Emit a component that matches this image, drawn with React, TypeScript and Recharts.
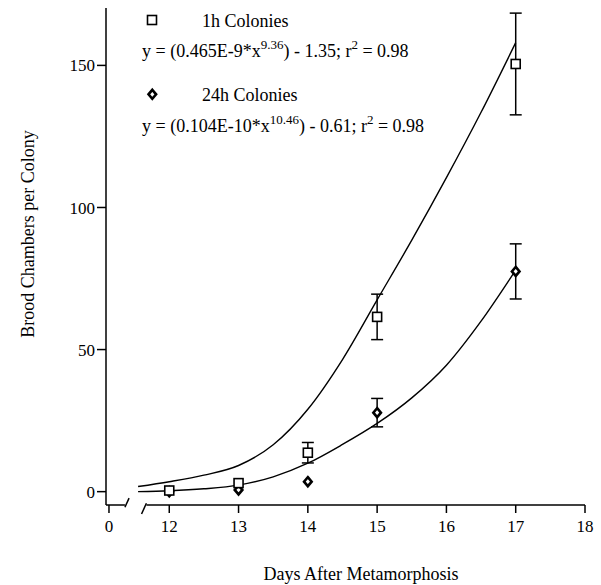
import React from 'react';
import {
  ComposedChart,
  Line,
  Scatter,
  XAxis,
  YAxis,
  ErrorBar,
  ReferenceLine,
} from 'recharts';

// observed means (days after metamorphosis)
const days = [12, 13, 14, 15, 17];
const colonies1h = [0.4, 3.0, 13.7, 61.5, 150.5];
const err1h = [null, null, 3.6, 8, 17.9];
const colonies24h = [0, 0.6, 3.5, 27.8, 77.5];
const err24h = [null, null, null, 5, 9.7];

// fitted curves
const fitDays = [11.55, 12, 12.5, 13, 13.5, 14, 14.5, 15, 15.5, 16, 16.5, 17];
const fit1h = [1.8, 3.5, 5.8, 9.2, 16.5, 29, 46.5, 67.5, 88.5, 110.5, 133.5, 158];
const fit24h = [0, 0.3, 1.0, 2.3, 5.2, 10, 16.6, 24, 33, 44.5, 60, 78];

const xTicks = [11.13, 12, 13, 14, 15, 16, 17, 18];
const yTicks = [0, 50, 100, 150];

const points1h = days.map((d, i) => ({ day: d, value: colonies1h[i], err: err1h[i] }));
const points24h = days.map((d, i) => ({ day: d, value: colonies24h[i], err: err24h[i] }));
const curve1h = fitDays.map((d, i) => ({ day: d, value: fit1h[i] }));
const curve24h = fitDays.map((d, i) => ({ day: d, value: fit24h[i] }));

const serif = "'Liberation Serif', 'Times New Roman', serif";
const ink = '#000';

const SquareMark = (props: any) => {
  const { cx, cy } = props;
  return <rect x={cx - 4.5} y={cy - 4.5} width={9} height={9} fill="#fff" stroke={ink} strokeWidth={1.6} />;
};

const DiamondMark = (props: any) => {
  const { cx, cy } = props;
  return (
    <polygon
      points={`${cx},${cy - 4.5} ${cx + 3.8},${cy} ${cx},${cy + 4.5} ${cx - 3.8},${cy}`}
      fill="#fff"
      stroke={ink}
      strokeWidth={2.6}
    />
  );
};

const axisSeg = { stroke: ink, strokeWidth: 1.5, ifOverflow: 'visible' as const };

const App = () => {
  return (
    <div style={{ position: 'absolute', left: 0, top: 0, width: 601, height: 585, background: '#fff' }}>
      <ComposedChart width={601} height={585} margin={{ top: 8, right: 16, bottom: 50, left: 46 }}>
        <XAxis
          type="number"
          dataKey="day"
          domain={[11.087, 18]}
          allowDataOverflow
          ticks={xTicks}
          tickFormatter={(v) => (v < 11.5 ? '0' : String(v))}
          axisLine={false}
          tickLine={{ stroke: ink, strokeWidth: 1.5 }}
          tickSize={8}
          tickMargin={7}
          height={30}
          tick={{ fill: ink, fontSize: 17, fontFamily: serif }}
          label={{
            content: () => (
              <text x={361} y={580} textAnchor="middle" fontSize={18} fontFamily={serif} fill={ink}>
                Days After Metamorphosis
              </text>
            ),
          }}
        />
        <YAxis
          type="number"
          domain={[-4.7, 170.2]}
          allowDataOverflow
          ticks={yTicks}
          width={60}
          axisLine={{ stroke: ink, strokeWidth: 1.5 }}
          tickLine={{ stroke: ink, strokeWidth: 1.5 }}
          tickSize={9}
          tickMargin={2}
          tick={{ fill: ink, fontSize: 17, fontFamily: serif }}
          label={{
            content: () => (
              <text
                x={0}
                y={0}
                transform="translate(34,234) rotate(-90)"
                textAnchor="middle"
                fontSize={18}
                fontFamily={serif}
                fill={ink}
              >
                Brood Chambers per Colony
              </text>
            ),
          }}
        />

        {/* broken x axis */}
        <ReferenceLine segment={[{ x: 11.087, y: -4.7 }, { x: 11.36, y: -4.7 }]} {...axisSeg} />
        <ReferenceLine segment={[{ x: 11.36, y: -5.5 }, { x: 11.42, y: -2.3 }]} {...axisSeg} />
        <ReferenceLine segment={[{ x: 11.6, y: -7.85 }, { x: 11.67, y: -4.1 }]} {...axisSeg} />
        <ReferenceLine segment={[{ x: 11.67, y: -4.7 }, { x: 18, y: -4.7 }]} {...axisSeg} />

        <Line
          data={curve1h}
          dataKey="value"
          type="monotone"
          stroke={ink}
          strokeWidth={1.4}
          dot={false}
          activeDot={false}
          isAnimationActive={false}
        />
        <Line
          data={curve24h}
          dataKey="value"
          type="monotone"
          stroke={ink}
          strokeWidth={1.4}
          dot={false}
          activeDot={false}
          isAnimationActive={false}
        />
        <Scatter data={points24h} dataKey="value" shape={DiamondMark} isAnimationActive={false}>
          <ErrorBar dataKey="err" direction="y" width={6} stroke={ink} strokeWidth={1.5} isAnimationActive={false} />
        </Scatter>
        <Scatter data={points1h} dataKey="value" shape={SquareMark} isAnimationActive={false}>
          <ErrorBar dataKey="err" direction="y" width={6} stroke={ink} strokeWidth={1.5} isAnimationActive={false} />
        </Scatter>
      </ComposedChart>

      <svg
        width={601}
        height={585}
        style={{ position: 'absolute', left: 0, top: 0, pointerEvents: 'none', whiteSpace: 'pre' }}
        fontFamily={serif}
        fill={ink}
      >
        <rect x={147.5} y={15.5} width={9} height={9} fill="#fff" stroke={ink} strokeWidth={1.6} />
        <text x={202} y={27} fontSize={18}>1h Colonies</text>
        <text x={142} y={57} fontSize={18}>
          {'y  = (0.465E-9*x'}
          <tspan fontSize={13} dy={-8}>9.36</tspan>
          <tspan dy={8}>{') - 1.35; r'}</tspan>
          <tspan fontSize={13} dy={-8}>2</tspan>
          <tspan dy={8}>{' = 0.98'}</tspan>
        </text>

        <polygon points="152.3,89.8 156.1,94.3 152.3,98.8 148.5,94.3" fill="#fff" stroke={ink} strokeWidth={2.6} />
        <text x={202} y={101} fontSize={18}>24h Colonies</text>
        <text x={142} y={132} fontSize={18}>
          {'y  = (0.104E-10*x'}
          <tspan fontSize={13} dy={-8}>10.46</tspan>
          <tspan dy={8}>{') - 0.61;  r'}</tspan>
          <tspan fontSize={13} dy={-8}>2</tspan>
          <tspan dy={8}>{' = 0.98'}</tspan>
        </text>
      </svg>
    </div>
  );
};

export default App;
